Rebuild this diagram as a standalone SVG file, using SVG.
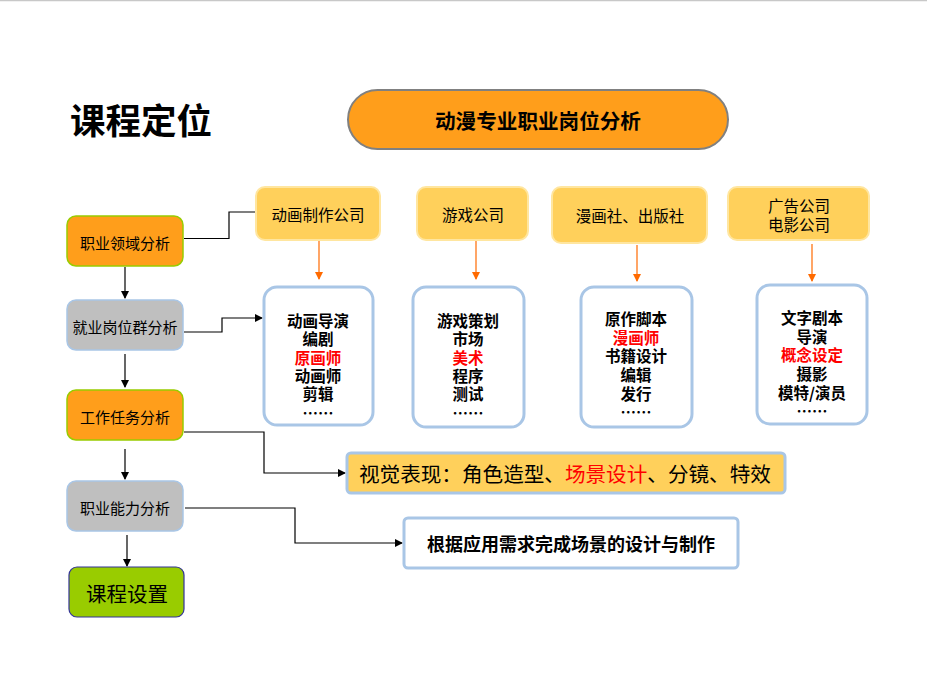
<svg xmlns="http://www.w3.org/2000/svg" width="927" height="680" viewBox="0 0 927 680">
<defs>
<marker id="ab" markerWidth="8" markerHeight="8" refX="7" refY="4" orient="auto" markerUnits="userSpaceOnUse"><path d="M0,0 L8,4 L0,8 z" fill="#000"/></marker>
<marker id="ao" markerWidth="8" markerHeight="8" refX="7" refY="4" orient="auto" markerUnits="userSpaceOnUse"><path d="M0,0 L8,4 L0,8 z" fill="#FF6A00"/></marker>
<style>
text{font-family:"Noto Sans CJK SC","Noto Sans",sans-serif;text-anchor:middle;dominant-baseline:central;fill:#000}
.b{font-weight:bold}
.r{fill:#FF0000}
.org{fill:#FF9E1B;stroke:#99CC00;stroke-width:1.5}
.gry{fill:#BFBFBF;stroke:#A9C6E6;stroke-width:1.5}
.co{fill:#FFD05B;stroke:#FFE6A0;stroke-width:2}
.job{fill:#fff;stroke:#A9C6E6;stroke-width:3}
.ln{fill:none;stroke:#000;stroke-width:1.2}
.oln{fill:none;stroke:#FF6A00;stroke-width:1.2}
.s15{font-size:15px}
.j{font-size:15.5px;font-weight:bold}
</style>
</defs>
<rect width="927" height="680" fill="#fff"/>
<line x1="0" y1="0.5" x2="927" y2="0.5" stroke="#C8C8C8" stroke-width="1.5"/>
<text x="141" y="118" class="b" style="font-size:35.5px">课程定位</text>

<g id="title"><rect x="348" y="90" width="380" height="59" rx="29.5" fill="#FF9E1B" stroke="#808080" stroke-width="2"/><text x="538" y="120" class="b" style="font-size:20.6px">动漫专业职业岗位分析</text></g>

<g id="connectors">
<line x1="125" y1="267" x2="125" y2="298" class="ln" marker-end="url(#ab)"/>
<line x1="125" y1="354" x2="125" y2="387" class="ln" marker-end="url(#ab)"/>
<line x1="125" y1="449" x2="125" y2="479" class="ln" marker-end="url(#ab)"/>
<line x1="127" y1="535" x2="127" y2="566" class="ln" marker-end="url(#ab)"/>
<polyline points="184,238.5 229,238.5 229,212 255,212" class="ln"/>
<polyline points="184,332 222,332 222,318 262,318" class="ln" marker-end="url(#ab)"/>
<polyline points="184,432 264,432 264,473 345,473" class="ln" marker-end="url(#ab)"/>
<polyline points="185,508 295,508 295,543 402,543" class="ln" marker-end="url(#ab)"/>
<line x1="319" y1="241" x2="319" y2="279" class="oln" marker-end="url(#ao)"/>
<line x1="476" y1="241" x2="476" y2="279" class="oln" marker-end="url(#ao)"/>
<line x1="637" y1="245" x2="637" y2="281" class="oln" marker-end="url(#ao)"/>
<line x1="812" y1="244" x2="812" y2="281" class="oln" marker-end="url(#ao)"/>
</g>

<g id="n1"><rect x="67" y="216" width="116" height="50" rx="9" class="org"/><text x="125" y="242" class="s15">职业领域分析</text></g>
<g id="n2"><rect x="67" y="300" width="116" height="50" rx="9" class="gry"/><text x="125" y="326" class="s15">就业岗位群分析</text></g>
<g id="n3"><rect x="67" y="390" width="116" height="50" rx="9" class="org"/><text x="125" y="416" class="s15">工作任务分析</text></g>
<g id="n4"><rect x="67" y="481" width="116" height="50" rx="9" class="gry"/><text x="125" y="507" class="s15">职业能力分析</text></g>
<g id="n5"><rect x="69" y="567" width="115" height="50" rx="8" fill="#99CC00" stroke="#333399" stroke-width="1.2"/><text x="127" y="593" style="font-size:20.5px">课程设置</text></g>

<g id="c1"><rect x="256" y="187" width="124" height="53" rx="9" class="co"/><text x="318" y="214" style="font-size:15.5px">动画制作公司</text></g>
<g id="c2"><rect x="417" y="187" width="111" height="53" rx="9" class="co"/><text x="473" y="214" style="font-size:15.5px">游戏公司</text></g>
<g id="c3"><rect x="552" y="187" width="155" height="56" rx="9" class="co"/><text x="630" y="215" style="font-size:15.5px">漫画社、出版社</text></g>
<g id="c4"><rect x="728" y="187" width="141" height="53" rx="9" class="co"/><text x="799" y="205" style="font-size:15.5px"><tspan x="799" y="205">广告公司</tspan><tspan x="799" y="224">电影公司</tspan></text></g>

<g id="j1"><rect x="264" y="287" width="109" height="138" rx="13" class="job"/>
<text class="j"><tspan x="318" y="320">动画导演</tspan><tspan x="318" y="338">编剧</tspan><tspan x="318" y="357" class="r">原画师</tspan><tspan x="318" y="375">动画师</tspan><tspan x="318" y="393">剪辑</tspan><tspan x="318" y="412">……</tspan></text></g>
<g id="j2"><rect x="413" y="287" width="111" height="140" rx="13" class="job"/>
<text class="j"><tspan x="468" y="320">游戏策划</tspan><tspan x="468" y="338">市场</tspan><tspan x="468" y="357" class="r">美术</tspan><tspan x="468" y="375">程序</tspan><tspan x="468" y="393">测试</tspan><tspan x="468" y="412">……</tspan></text></g>
<g id="j3"><rect x="581" y="287" width="111" height="140" rx="13" class="job"/>
<text class="j"><tspan x="636" y="318">原作脚本</tspan><tspan x="636" y="337" class="r">漫画师</tspan><tspan x="636" y="355">书籍设计</tspan><tspan x="636" y="374">编辑</tspan><tspan x="636" y="393">发行</tspan><tspan x="636" y="411">……</tspan></text></g>
<g id="j4"><rect x="757" y="285" width="110" height="139" rx="13" class="job"/>
<text class="j"><tspan x="812" y="317">文字剧本</tspan><tspan x="812" y="336">导演</tspan><tspan x="812" y="354" class="r">概念设定</tspan><tspan x="812" y="373">摄影</tspan><tspan x="812" y="392">模特/演员</tspan><tspan x="812" y="410">……</tspan></text></g>

<g id="v"><rect x="347" y="453" width="438" height="40" rx="4" fill="#FFD05B" stroke="#A9C6E6" stroke-width="3"/><text x="359" y="473" style="font-size:20.6px;text-anchor:start">视觉表现：角色造型、<tspan class="r">场景设计</tspan>、分镜、特效</text></g>
<g id="f"><rect x="404" y="518" width="334" height="50" rx="4" fill="#fff" stroke="#A9C6E6" stroke-width="3"/><text x="571" y="543" class="b" style="font-size:18px">根据应用需求完成场景的设计与制作</text></g>
</svg>
